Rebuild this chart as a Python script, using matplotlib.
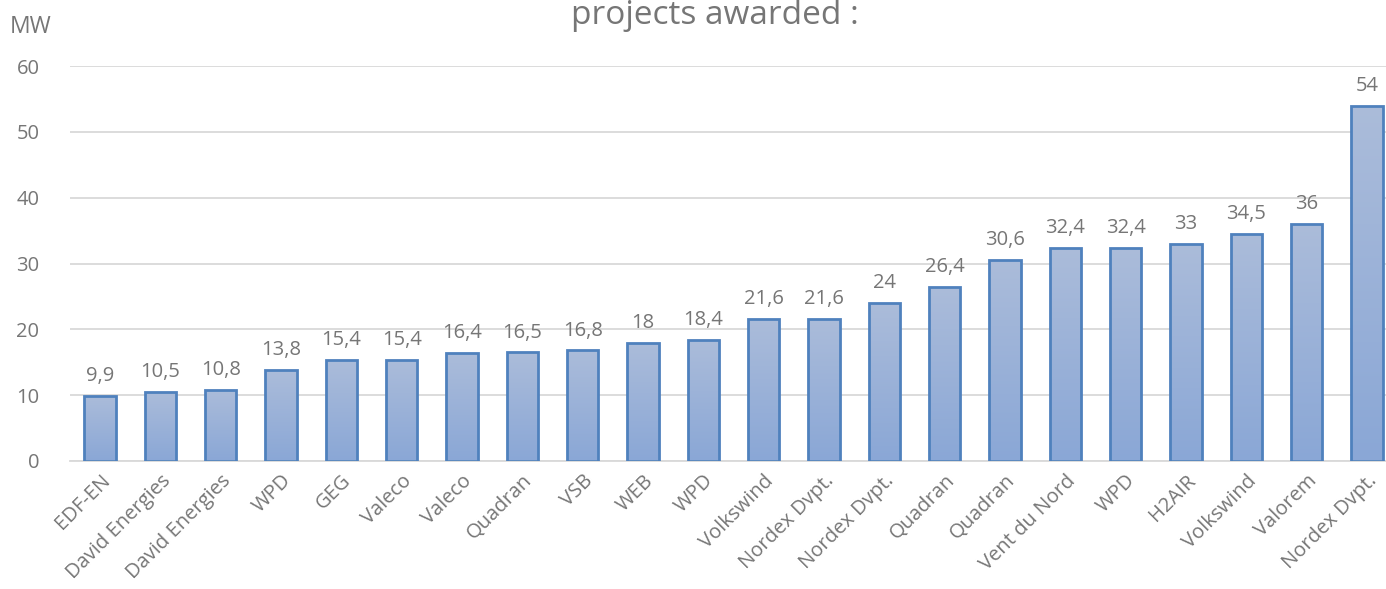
import matplotlib
matplotlib.use("Agg")
import matplotlib.pyplot as plt
import numpy as np
from matplotlib.colors import LinearSegmentedColormap

companies = ["EDF-EN", "David Energies", "David Energies", "WPD", "GEG", "Valeco",
             "Valeco", "Quadran", "VSB", "WEB", "WPD", "Volkswind", "Nordex Dvpt.",
             "Nordex Dvpt.", "Quadran", "Quadran", "Vent du Nord", "WPD", "H2AIR",
             "Volkswind", "Valorem", "Nordex Dvpt."]
capacity_mw = [9.9, 10.5, 10.8, 13.8, 15.4, 15.4, 16.4, 16.5, 16.8, 18, 18.4, 21.6,
               21.6, 24, 26.4, 30.6, 32.4, 32.4, 33, 34.5, 36, 54]
yticks = [0, 10, 20, 30, 40, 50, 60]

plt.rcParams['font.family'] = ['Open Sans', 'DejaVu Sans']
grey = '#767676'

W, H = 1386, 589
fig = plt.figure(figsize=(W / 100, H / 100), dpi=100)
ax = fig.add_axes([70 / W, 1 - 461 / H, 1 - 70 / W, (461 - 66) / H])

x = np.arange(len(companies))
bars = ax.bar(x, capacity_mw, width=0.52, facecolor='none', edgecolor='#4f81bd',
              linewidth=2, zorder=3)
cmap = LinearSegmentedColormap.from_list('g', ['#8aa7d6', '#abbcda'])
grad = np.linspace(0, 1, 256).reshape(-1, 1)
for b in bars:
    x0, y0 = b.get_x(), b.get_y()
    w, h = b.get_width(), b.get_height()
    im = ax.imshow(grad, cmap=cmap, aspect='auto', origin='lower',
                   extent=[x0, x0 + w, y0, y0 + h], zorder=2)
    im.set_clip_path(b)

for xi, v in zip(x, capacity_mw):
    lab = f"{v:g}".replace('.', ',')
    ax.annotate(lab, (xi, v), xytext=(0, 7), textcoords='offset points',
                ha='center', va='bottom', fontsize=14.5, color=grey)

ax.set_xlim(-0.5, len(companies) - 0.5 - (1397 - W) / 60.3)
ax.set_ylim(0, 60)
ax.set_yticks(yticks)
ax.set_yticklabels([str(t) for t in yticks], fontsize=14.5, color=grey)
ax.set_xticks(x)
ax.set_xticklabels(companies, rotation=45, ha='right', rotation_mode='anchor',
                   fontsize=14.5, color=grey)
ax.tick_params(axis='both', length=0)
ax.tick_params(axis='y', pad=22)
ax.tick_params(axis='x', pad=7)
ax.grid(axis='y', color='#d9d9d9', linewidth=1.3, zorder=0)
ax.set_axisbelow(True)
for s in ['top', 'right', 'left']:
    ax.spines[s].set_visible(False)
ax.spines['bottom'].set_color('#d9d9d9')
ax.spines['bottom'].set_linewidth(1.3)

fig.text(10 / W, 1 - 27 / H, 'MW', fontsize=16.5, color=grey, ha='left', va='center')
fig.text(715 / W, 1 - 24 / H, 'projects awarded :', fontsize=24, color=grey,
         ha='center', va='baseline')

fig.savefig('out.png', dpi=100)
